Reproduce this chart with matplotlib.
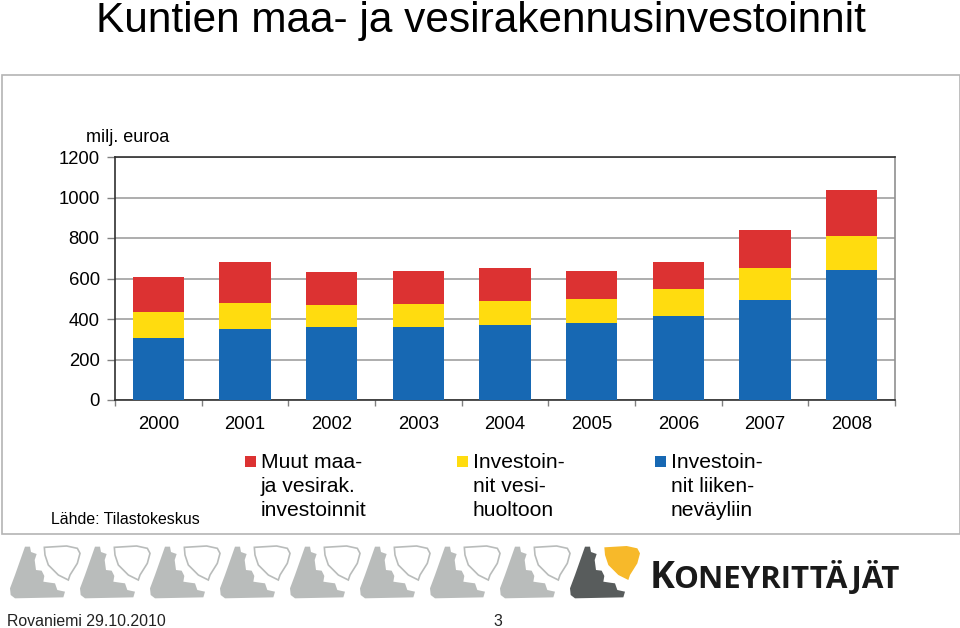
import numpy as np
import matplotlib
matplotlib.use('Agg')
import matplotlib.pyplot as plt
from matplotlib.patches import Polygon, Rectangle

plt.rcParams['font.family'] = ['Liberation Sans', 'DejaVu Sans']

years = ['2000', '2001', '2002', '2003', '2004', '2005', '2006', '2007', '2008']
liikenne = [306, 350, 360, 360, 370, 380, 415, 494, 642]
vesi = [129, 129, 109, 114, 119, 119, 133, 158, 168]
muut = [172, 202, 163, 163, 163, 138, 133, 188, 227]
yticks = [0, 200, 400, 600, 800, 1000, 1200]

BLUE = '#1768b3'
YELLOW = '#ffdc0f'
RED = '#dc3232'

fig = plt.figure(figsize=(9.6, 6.28), dpi=100)

# pixel overlay for the slide stuff
bg = fig.add_axes([0, 0, 1, 1])
bg.set_xlim(0, 960)
bg.set_ylim(628, 0)
bg.axis('off')

bg.add_patch(Rectangle((2, 75), 958, 459, fc='white', ec='#b4b4b4', lw=1.2))
bg.text(481, 32, 'Kuntien maa- ja vesirakennusinvestoinnit', fontsize=30.5, ha='center', va='baseline', color='black')

# chart
ax = fig.add_axes([115 / 960, 1 - 400 / 628, 780 / 960, 243 / 628])
x = np.arange(len(years))
ax.bar(x, liikenne, width=0.59, color=BLUE, zorder=3)
ax.bar(x, vesi, width=0.59, bottom=liikenne, color=YELLOW, zorder=3)
ax.bar(x, muut, width=0.59, bottom=np.array(liikenne) + np.array(vesi), color=RED, zorder=3)
ax.set_xlim(-0.5, 8.5)
ax.set_ylim(0, 1200)
ax.set_yticks(yticks)
ax.set_xticks(x)
ax.set_xticklabels(years)
ax.set_xticks(np.arange(-0.5, 9, 1), minor=True)
ax.tick_params(axis='x', which='major', length=0, labelsize=13.3, pad=11.5)
ax.tick_params(axis='x', which='minor', length=4, color='#808080', width=1)
ax.tick_params(axis='y', length=6, color='#808080', width=1, labelsize=13.3, pad=5)
ax.grid(axis='y', color='#a0a0a0', lw=1.2, zorder=0)
for s in ['top', 'left', 'bottom', 'right']:
    ax.spines[s].set_color('#303030')
    ax.spines[s].set_linewidth(1.2)
ax.spines['right'].set_color('#909090')

bg.text(85.5, 138, 'milj. euroa', fontsize=13, ha='left', va='center')
bg.text(51, 520, 'Lähde: Tilastokeskus', fontsize=11.4, ha='left', va='center')

# legend
for lx, col, tx, lines in [(245, RED, 261, 'Muut maa-\nja vesirak.\ninvestoinnit'),
                           (457, YELLOW, 473, 'Investoin-\nnit vesi-\nhuoltoon'),
                           (655, BLUE, 671, 'Investoin-\nnit liiken-\nneväyliin')]:
    bg.add_patch(Rectangle((lx, 456), 11, 11, fc=col, ec='none'))
    for i, line in enumerate(lines.split('\n')):
        bg.text(tx, 462 + i * 24.5, line, fontsize=15.2, ha='left', va='center')

# logo pieces, outlines taken from a 3x crop
gear = np.array([[75, 20], [90, 20], [93, 36], [110, 42], [104, 60], [108, 90], [125, 92], [133, 108],
                 [130, 125], [150, 128], [165, 130], [172, 150], [195, 155], [190, 172], [45, 175],
                 [32, 165], [30, 145], [45, 105]], dtype=float) / 3
cup = np.array([[133, 22], [200, 18], [232, 25], [240, 40], [232, 70], [210, 105], [205, 120],
                [175, 105], [145, 75], [135, 45]], dtype=float) / 3
for i in range(8):
    ox = i * 70
    bg.add_patch(Polygon(gear + [ox, 540], fc='#b9bcbb', ec='none', zorder=2))
    bg.add_patch(Polygon(cup + [ox, 540], fc='white', ec='#b9bcbb', lw=1.2, zorder=2))
bg.add_patch(Polygon(gear + [560, 540], fc='#585c5c', ec='none', zorder=2))
bg.add_patch(Polygon(cup + [560, 540], fc='#f7b92a', ec='none', zorder=2))

# KONEYRITTÄJÄT in small caps look
bg.text(650, 588, 'K', fontsize=27, fontweight='bold', ha='left', va='baseline', color='#1a1a1a', family='Open Sans')
bg.text(673, 588, 'ONEYRITTÄJÄT', fontsize=22.5, fontweight='bold', ha='left', va='baseline', color='#1a1a1a', family='Open Sans')

bg.text(7, 621, 'Rovaniemi 29.10.2010', fontsize=11.4, ha='left', va='center', color='#222222')
bg.text(498, 621, '3', fontsize=11.4, ha='center', va='center', color='#222222')

fig.savefig('out.png', dpi=100)
